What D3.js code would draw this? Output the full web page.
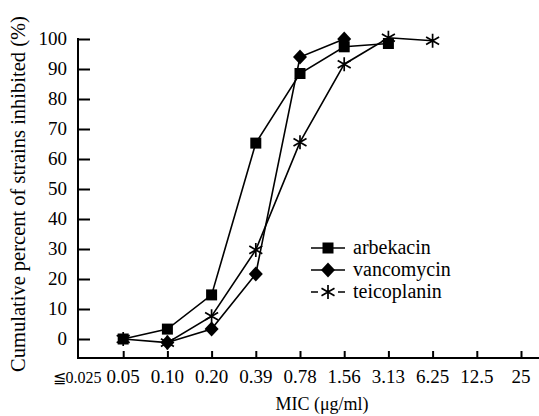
<!DOCTYPE html>
<html>
<head>
<meta charset="utf-8">
<script src="https://cdn.jsdelivr.net/npm/d3@7"></script>
<style>
  body { margin: 0; background: #fff; }
  text { font-family: "Liberation Serif", "DejaVu Serif", serif; fill: #000; }
</style>
</head>
<body>
<div id="chart"></div>
<script>
// MIC categories along the x axis.
var mics = ["0.025", "0.05", "0.10", "0.20", "0.39", "0.78", "1.56", "3.13", "6.25", "12.5", "25"];
var yTicks = [0, 10, 20, 30, 40, 50, 60, 70, 80, 90, 100];

// Cumulative percent per drug.
var arbekacinMic = ["0.05", "0.10", "0.20", "0.39", "0.78", "1.56", "3.13"];
var arbekacin = [0, 3.3, 14.7, 65.3, 88.5, 97.4, 98.5];
var vancomycinMic = ["0.10", "0.20", "0.39", "0.78", "1.56"];
var vancomycin = [-1.2, 3.3, 21.7, 94, 100];
var teicoplaninMic = ["0.05", "0.10", "0.20", "0.39", "0.78", "1.56", "3.13", "6.25"];
var teicoplanin = [0, -1.2, 7.6, 29.7, 65.6, 91.6, 100.4, 99.4];

var series = [
  { name: "arbekacin", mic: arbekacinMic, values: arbekacin, symbol: "square" },
  { name: "vancomycin", mic: vancomycinMic, values: vancomycin, symbol: "diamond" },
  { name: "teicoplanin", mic: teicoplaninMic, values: teicoplanin, symbol: "star" }
];

var width = 539, height = 416;

var xScale = d3.scalePoint().domain(mics).range([79, 521]);
var yScale = d3.scaleLinear().domain([0, 100]).range([339, 39]);
var axisY = 358;

var svg = d3.select("#chart").append("svg")
  .attr("width", width)
  .attr("height", height);

// Axes lines.
svg.append("line")
  .attr("x1", 78).attr("x2", 78)
  .attr("y1", yScale(100) - 1).attr("y2", axisY + 1)
  .attr("stroke", "#000").attr("stroke-width", 2);
svg.append("line")
  .attr("x1", 77).attr("x2", 539)
  .attr("y1", axisY).attr("y2", axisY)
  .attr("stroke", "#000").attr("stroke-width", 2);

// y ticks, pointing inward.
var yAxis = d3.axisRight(yScale).tickValues(yTicks).tickSize(12).tickFormat("");
var gy = svg.append("g").attr("transform", "translate(78,0)").call(yAxis);
gy.select(".domain").remove();
gy.selectAll("line").attr("stroke-width", 2);

svg.selectAll(".ylab")
  .data(yTicks)
  .enter().append("text")
  .attr("class", "ylab")
  .attr("x", 67)
  .attr("y", function(d) { return yScale(d); })
  .attr("dy", "0.34em")
  .attr("text-anchor", "end")
  .style("font-size", "19px")
  .text(function(d) { return d; });

// x ticks, pointing upward (none at the lowest category).
var xAxis = d3.axisTop(xScale).tickValues(mics.slice(1)).tickSize(7).tickFormat("");
var gx = svg.append("g").attr("transform", "translate(0," + axisY + ")").call(xAxis);
gx.select(".domain").remove();
gx.selectAll("line").attr("stroke-width", 2);

var xl = svg.selectAll(".xlab")
  .data(mics)
  .enter().append("text")
  .attr("class", "xlab")
  .attr("x", function(d) { return xScale(d); })
  .attr("y", 383)
  .attr("text-anchor", "middle")
  .style("font-size", "19px");
xl.filter(function(d, i) { return i === 0; })
  .attr("x", function(d) { return xScale(d) - 2; })
  .style("font-size", "16px")
  .text(function(d) { return "≦" + d; });
xl.filter(function(d, i) { return i > 0; })
  .text(function(d) { return d; });

// Axis titles.
svg.append("text")
  .attr("x", 322).attr("y", 410)
  .attr("text-anchor", "middle")
  .style("font-size", "18px")
  .text("MIC (μg/ml)");

svg.append("text")
  .attr("transform", "translate(25,194) rotate(-90)")
  .attr("text-anchor", "middle")
  .style("font-size", "20.5px")
  .text("Cumulative percent of strains inhibited (%)");

// Marker drawing.
function drawMarker(g, symbol) {
  if (symbol === "square") {
    g.append("rect").attr("x", -5.5).attr("y", -5.5).attr("width", 11).attr("height", 11).attr("fill", "#000");
  } else if (symbol === "diamond") {
    g.append("path").attr("d", "M0,-7.5L7,0L0,7.5L-7,0Z").attr("fill", "#000");
  } else {
    g.append("path")
      .attr("d", "M0,-7L0,7M-6.5,-3.8L6.5,3.8M-6.5,3.8L6.5,-3.8")
      .attr("stroke", "#000").attr("stroke-width", 1.7).attr("fill", "none");
  }
}

var line = d3.line()
  .x(function(d) { return xScale(d[0]); })
  .y(function(d) { return yScale(d[1]); });

series.forEach(function(s) {
  var pts = s.mic.map(function(m, i) { return [m, s.values[i]]; });
  svg.append("path")
    .attr("d", line(pts))
    .attr("fill", "none")
    .attr("stroke", "#000")
    .attr("stroke-width", 1.6);
  pts.forEach(function(p) {
    var g = svg.append("g")
      .attr("transform", "translate(" + xScale(p[0]) + "," + yScale(p[1]) + ")");
    drawMarker(g, s.symbol);
  });
});

// Legend.
var legend = svg.selectAll(".legend")
  .data(series)
  .enter().append("g")
  .attr("class", "legend")
  .attr("transform", function(d, i) { return "translate(328," + (248 + i * 22) + ")"; });

legend.append("line")
  .attr("x1", -17).attr("x2", 17)
  .attr("stroke", "#000").attr("stroke-width", 1.6)
  .attr("stroke-dasharray", function(d) { return d.symbol === "star" ? "7,20,7" : null; });
legend.each(function(d) { drawMarker(d3.select(this), d.symbol); });
legend.append("text")
  .attr("x", 25)
  .attr("dy", "0.3em")
  .style("font-size", "20px")
  .text(function(d) { return d.name; });
</script>
</body>
</html>
